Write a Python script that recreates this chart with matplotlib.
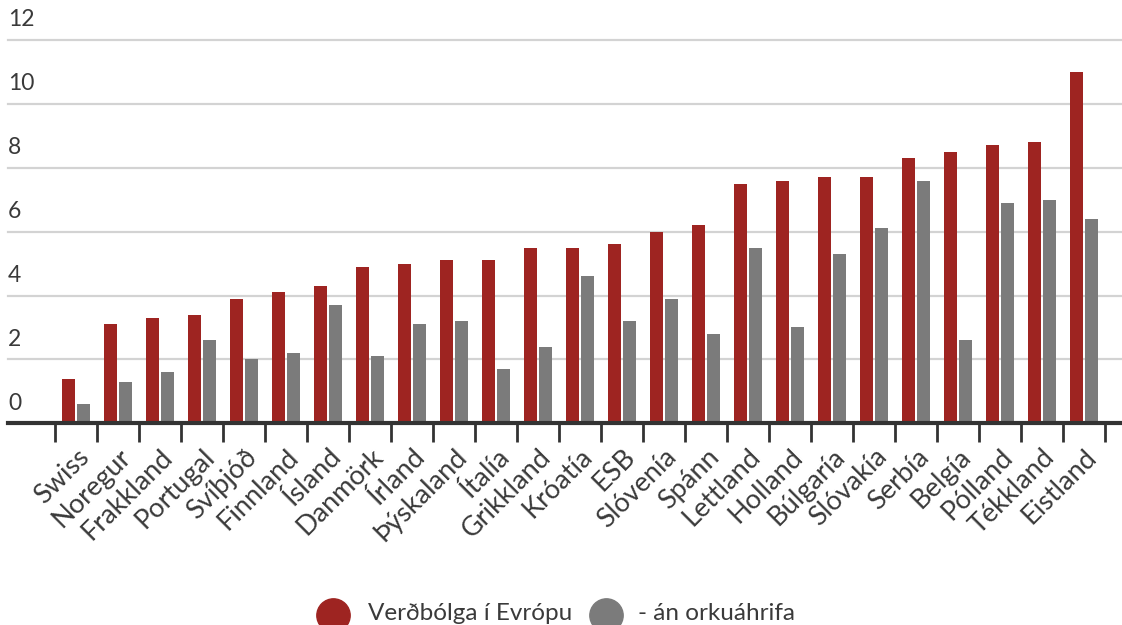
import matplotlib
matplotlib.use("Agg")
import matplotlib.pyplot as plt
import matplotlib.transforms as mtransforms
from matplotlib.lines import Line2D
import numpy as np

plt.rcParams['font.family'] = ['Lato', 'DejaVu Sans']

# Data
countries = ['Swiss', 'Noregur', 'Frakkland', 'Portugal', 'Svíþjóð', 'Finnland',
             'Ísland', 'Danmörk', 'Írland', 'Þýskaland', 'Ítalía', 'Grikkland',
             'Króatía', 'ESB', 'Slóvenía', 'Spánn', 'Lettland', 'Holland',
             'Búlgaría', 'Slóvakía', 'Serbía', 'Belgía', 'Pólland', 'Tékkland',
             'Eistland']
inflation = [1.4, 3.1, 3.3, 3.4, 3.9, 4.1, 4.3, 4.9, 5.0, 5.1, 5.1, 5.5, 5.5,
             5.6, 6.0, 6.2, 7.5, 7.6, 7.7, 7.7, 8.3, 8.5, 8.7, 8.8, 11.0]
core = [0.6, 1.3, 1.6, 2.6, 2.0, 2.2, 3.7, 2.1, 3.1, 3.2, 1.7, 2.4, 4.6,
        3.2, 3.9, 2.8, 5.5, 3.0, 5.3, 6.1, 7.6, 2.6, 6.9, 7.0, 6.4]
yticks = [0, 2, 4, 6, 8, 10, 12]
legend_labels = ['Verðbólga í Evrópu', '- án orkuáhrifa']

red = '#9e2421'
grey = '#7b7b7b'
text_col = '#3a3a3a'

W, H = 1122, 625
fig = plt.figure(figsize=(W / 100, H / 100), dpi=100)
y0_px, top_px = 423.3, 35
ymax = (y0_px - top_px) / 31.94
ax = fig.add_axes([0, 1 - y0_px / H, 1, (y0_px - top_px) / H])

x = np.arange(len(countries))
ax.bar(x - 0.18, inflation, width=0.29, color=red, zorder=3)
ax.bar(x + 0.18, core, width=0.29, color=grey, zorder=3)

# x extent: left edge at 8px, category centre 0 at 76px, 42px per category
ax.set_xlim((0 - 76) / 42, (W - 76) / 42)
ax.set_ylim(0, ymax)

for v in yticks[1:]:
    ax.axhline(v, color='#d3d3d3', lw=1.6, xmin=8 / W, zorder=1)
ax.axhline(0, color='#333333', lw=3, xmin=8 / W, zorder=4, clip_on=False)

for s in ax.spines.values():
    s.set_visible(False)
ax.set_yticks([])

trans = mtransforms.blended_transform_factory(fig.transFigure, ax.transData)
for v in yticks:
    ax.annotate(str(v), xy=(8 / W, v), xycoords=trans, xytext=(0, 7),
                textcoords='offset points', ha='left', va='bottom',
                fontsize=16.5, color=text_col)

# boundary ticks between categories
ax.set_xticks(np.arange(len(countries) + 1) - 0.5, minor=True)
ax.tick_params(axis='x', which='minor', length=13.5, width=2, color='#333333')
ax.set_xticks(x)
ax.set_xticklabels(countries, rotation=45, ha='right', rotation_mode='anchor',
                   fontsize=19.5, color=text_col)
ax.tick_params(axis='x', which='major', length=0, pad=15)

# legend drawn by hand at the bottom
leg_y = (H - 614.5) / H
base_y = (H - 620) / H
fig.add_artist(Line2D([333 / W], [leg_y], marker='o', ms=24, ls='', color=red,
                      transform=fig.transFigure))
fig.add_artist(Line2D([606 / W], [leg_y], marker='o', ms=24, ls='', color=grey,
                      transform=fig.transFigure))
fig.text(368 / W, base_y, legend_labels[0], fontsize=17.5, color=text_col,
         va='baseline', ha='left')
fig.text(638 / W, base_y, legend_labels[1], fontsize=17.5, color=text_col,
         va='baseline', ha='left')

fig.savefig('out.png', dpi=100)
